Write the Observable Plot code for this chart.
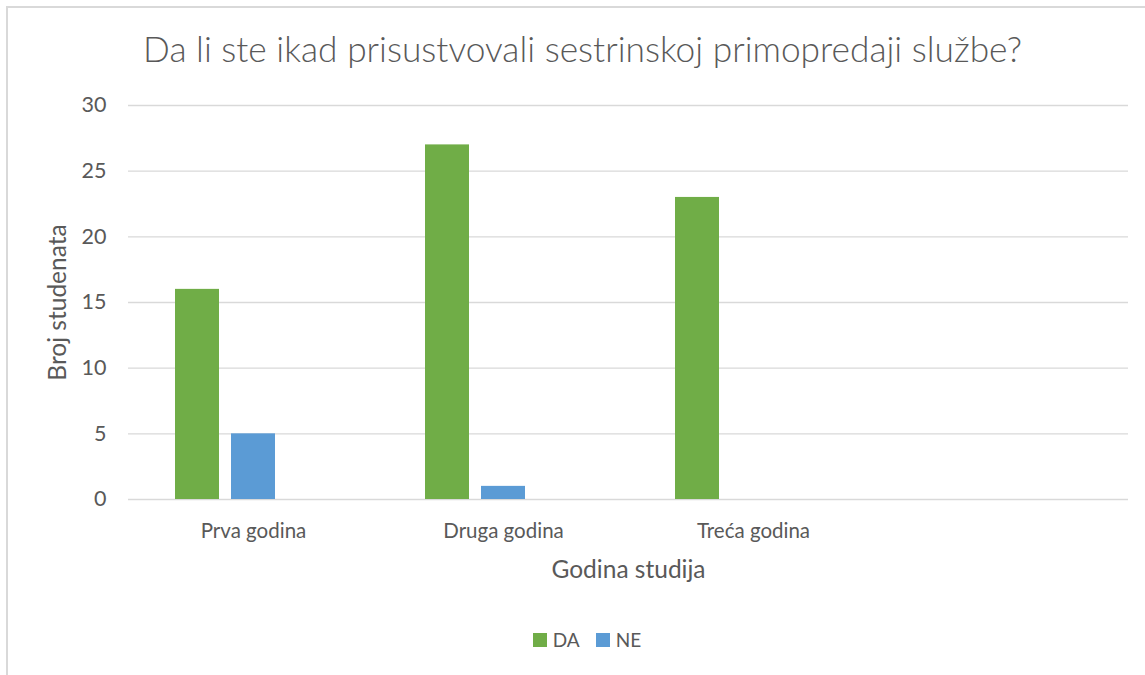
<!DOCTYPE html>
<html><head><meta charset="utf-8">
<script src="https://cdn.jsdelivr.net/npm/d3@7"></script>
<script src="https://cdn.jsdelivr.net/npm/@observablehq/plot@0.6"></script>
<style>
body{margin:0;background:#fff;}
#wrap{position:relative;width:1145px;height:675px;overflow:hidden;font-family:Lato,sans-serif;color:#595959;background:#fff;}
#frame{position:absolute;left:6px;top:6px;width:1300px;height:800px;border-left:2px solid #d9d9d9;border-top:2px solid #d9d9d9;}
#title{position:absolute;left:0;width:1165px;top:27px;text-align:center;font-size:35.3px;font-weight:300;line-height:44px;white-space:nowrap;}
#chart{position:absolute;left:0;top:0;}
#legend{position:absolute;top:626px;left:0;width:1174px;display:flex;justify-content:center;align-items:center;font-size:19px;line-height:28px;}
.item{display:flex;align-items:center;margin:0 8px;}
.sw{width:14px;height:14px;margin-right:6px;}
</style></head>
<body>
<div id="wrap">
  <div id="frame"></div>
  <div id="chart"></div>
  <div id="title">Da li ste ikad prisustvovali sestrinskoj primopredaji službe?</div>
  <div id="legend"></div>
</div>
<script>
const categories = ["Prva godina", "Druga godina", "Treća godina", " "];
const series = ["DA", "NE"];
const daValues = [16, 27, 23];
const neValues = [5, 1, 0];
const yTicks = [0, 5, 10, 15, 20, 25, 30];
const colors = ["#70ad47", "#5b9bd5"];
const slots = [...series, "_"];

const rows = [];
daValues.forEach((v, i) => rows.push({cat: categories[i], series: "DA", value: v}));
neValues.forEach((v, i) => rows.push({cat: categories[i], series: "NE", value: v}));
const gridRows = categories.flatMap(c => yTicks.map(t => ({cat: c, tick: t})));

const chart = Plot.plot({
  width: 1145, height: 675,
  marginTop: 105, marginBottom: 176, marginLeft: 127, marginRight: 17,
  style: {fontFamily: "Lato, sans-serif", fontSize: "20.5px", color: "#595959", background: "transparent"},
  fx: {domain: categories, padding: 0, label: "Godina studija", axis: "bottom", tickSize: 0, tickPadding: 24, labelAnchor: "center", labelOffset: 78, labelArrow: "none"},
  x: {domain: slots, axis: null, paddingInner: 0.223, paddingOuter: 0.8435},
  y: {domain: [0, 30], ticks: yTicks, tickSize: 0, tickPadding: 22, label: "Broj studenata", labelAnchor: "center", labelOffset: 80, labelArrow: "none"},
  color: {domain: series, range: colors},
  marks: [
    Plot.ruleY(gridRows, {fx: "cat", y: "tick", stroke: "#d9d9d9", strokeWidth: 1.3}),
    Plot.barY(rows, {fx: "cat", x: "series", y: "value", fill: "series"})
  ]
});
document.getElementById("chart").appendChild(chart);
chart.querySelectorAll("[aria-label='fx-axis label'] text, [aria-label='y-axis label'] text").forEach(t => t.setAttribute("font-size", "24.5px"));
chart.querySelectorAll("[aria-label='y-axis tick label'] text").forEach(t => t.setAttribute("font-size", "21.5px"));

const legend = document.getElementById("legend");
series.forEach((s, i) => {
  const it = document.createElement("div");
  it.className = "item";
  it.innerHTML = `<span class="sw" style="background:${colors[i]}"></span><span>${s}</span>`;
  legend.appendChild(it);
});
</script>
</body></html>
